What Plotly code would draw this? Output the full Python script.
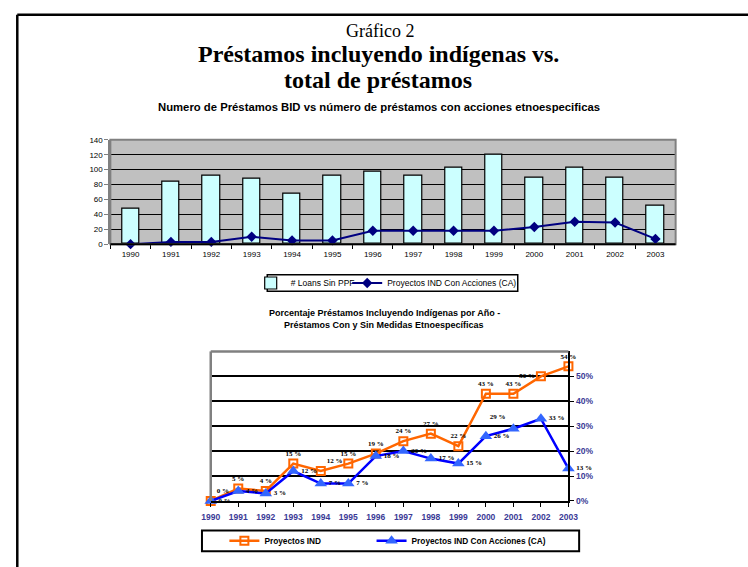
import plotly.graph_objects as go

W, H = 748, 567

# ---------------- data ----------------
years = ["1990", "1991", "1992", "1993", "1994", "1995", "1996", "1997",
         "1998", "1999", "2000", "2001", "2002", "2003"]
years_num = [1990, 1991, 1992, 1993, 1994, 1995, 1996, 1997, 1998, 1999,
             2000, 2001, 2002, 2003]
loans_sin_ppf = [47, 84, 92, 87, 68, 92, 97, 92, 102, 120, 89, 102, 89, 52]
proy_ind_ca_count = [0, 3, 3, 10, 5, 5, 18, 18, 18, 18, 23, 30, 29, 7]

pct_ind = [0, 5, 4, 15, 12, 15, 19, 24, 27, 22, 43, 43, 50, 54]
pct_ca = [0, 4, 3, 12, 7, 7, 18, 20, 17, 15, 26, 29, 33, 13]

top_yticks = [0, 20, 40, 60, 80, 100, 120, 140]
bot_yticks = [0, 10, 20, 30, 40, 50]
bot_yticklabels = ["0%", "10%", "20%", "30%", "40%", "50%"]


def px_x(v):
    return v / W


def px_y(v):
    return 1 - v / H


SANS = "Liberation Sans, Arial, sans-serif"
SERIF = "Liberation Serif, Times New Roman, serif"
TICKBLUE = "#3A3A96"

fig = go.Figure()

# ---------------- top chart ----------------
fig.add_trace(go.Bar(
    x=years, y=loans_sin_ppf, name="# Loans Sin PPF",
    marker=dict(color="#CCFFFF", line=dict(color="black", width=1.2)),
    width=0.43, xaxis="x", yaxis="y", legend="legend",
))
fig.add_trace(go.Scatter(
    x=years, y=proy_ind_ca_count, name="Proyectos IND Con Acciones (CA)",
    mode="lines+markers", line=dict(color="#000080", width=2),
    marker=dict(symbol="diamond", size=8, color="#000080"),
    xaxis="x", yaxis="y", legend="legend2", cliponaxis=False,
))

# ---------------- bottom chart ----------------
ind_text = [f"{v} %" for v in pct_ind]
ca_text = [f"{v} %" for v in pct_ca]
ind_pos = ["top right", "top center", "top center", "top center", "top right",
           "top center", "top center", "top center", "top center", "top center",
           "top center", "top center", "middle left", "top center"]
ca_pos = ["middle right"] * 11 + ["top left", "middle right", "middle right"]

fig.add_trace(go.Scatter(
    x=years_num, y=pct_ind, name="Proyectos IND",
    mode="lines+markers+text", text=ind_text, textposition=ind_pos,
    textfont=dict(family=SERIF, size=7, color="black", weight="bold"),
    line=dict(color="#FF6600", width=2.5),
    marker=dict(symbol="square-open", size=8, color="#FF6600",
                line=dict(width=2, color="#FF6600")),
    xaxis="x2", yaxis="y2", legend="legend3", cliponaxis=False,
))
fig.add_trace(go.Scatter(
    x=years_num, y=pct_ca, name="Proyectos IND Con Acciones (CA)",
    mode="lines+markers+text", text=ca_text, textposition=ca_pos,
    textfont=dict(family=SERIF, size=7, color="black", weight="bold"),
    line=dict(color="#0000FF", width=2.5),
    marker=dict(symbol="triangle-up", size=11, color="#3366FF"),
    xaxis="x2", yaxis="y2", legend="legend4", cliponaxis=False,
))

top_x = [px_x(104), px_x(684)]
top_y = [px_y(244), px_y(138)]
bot_x = [px_x(207), px_x(574)]
bot_y = [px_y(505), px_y(353)]

shapes = [
    # page frame
    dict(type="line", xref="paper", yref="paper", x0=px_x(8.5), x1=1.02,
         y0=px_y(11), y1=px_y(11), line=dict(color="black", width=2.5)),
    dict(type="line", xref="paper", yref="paper", x0=px_x(8.5), x1=px_x(8.5),
         y0=px_y(11), y1=-0.02, line=dict(color="black", width=2.5)),
    # top plot gray background + border
    dict(type="rect", xref="x domain", yref="y domain", x0=0, x1=1, y0=0, y1=1,
         fillcolor="#C0C0C0", line=dict(width=0), layer="below"),
    dict(type="rect", xref="x domain", yref="y domain", x0=0, x1=1, y0=0, y1=1,
         line=dict(color="#808080", width=2), layer="above"),
    dict(type="line", xref="x domain", yref="y domain", x0=0, x1=1, y0=0, y1=0,
         line=dict(color="black", width=2), layer="above"),
    # bottom plot border
    dict(type="line", xref="x2 domain", yref="y2 domain", x0=0, x1=1, y0=1, y1=1,
         line=dict(color="#808080", width=2.5), layer="above"),
    dict(type="line", xref="x2 domain", yref="y2 domain", x0=0, x1=0, y0=0, y1=1,
         line=dict(color="#808080", width=2.5), layer="above"),
    # legend frames
    dict(type="rect", xref="paper", yref="paper",
         x0=px_x(265), x1=px_x(522), y0=px_y(292), y1=px_y(275),
         line=dict(color="black", width=1.5)),
    dict(type="rect", xref="paper", yref="paper",
         x0=px_x(198), x1=px_x(585), y0=px_y(556), y1=px_y(535),
         line=dict(color="black", width=2)),
]


def ann(text, x, y, family, size):
    return dict(text=text, x=px_x(x), y=px_y(y), xref="paper", yref="paper",
                xanchor="center", yanchor="middle", showarrow=False,
                font=dict(family=family, size=size, color="black"))


annotations = [
    ann("Gráfico 2", 381, 27, SERIF, 18),
    ann("<b>Préstamos incluyendo indígenas vs.</b>", 379, 51, SERIF, 24),
    ann("<b>total de préstamos</b>", 379, 77, SERIF, 24),
    ann("<b>Numero de Préstamos BID vs número de préstamos con acciones etnoespecificas</b>",
        380, 105, SANS, 11.3),
    ann("<b>Porcentaje Préstamos Incluyendo Indígenas por Año -</b>", 385, 314, SANS, 9),
    ann("<b>Préstamos Con y Sin Medidas Etnoespecíficas</b>", 385, 326, SANS, 9),
]


def leg(x, y, size, bold=False):
    f = dict(family=SANS, size=size, color="black")
    if bold:
        f["weight"] = "bold"
    return dict(orientation="h", x=px_x(x), y=px_y(y), xanchor="left",
                yanchor="middle", borderwidth=0, bgcolor="rgba(0,0,0,0)",
                itemwidth=30, font=f)


fig.update_layout(
    width=W, height=H,
    margin=dict(l=0, r=0, t=0, b=0),
    paper_bgcolor="white", plot_bgcolor="rgba(0,0,0,0)",
    showlegend=True,
    hovermode=False,
    bargap=0,
    xaxis=dict(domain=top_x, anchor="y", type="category", range=[-0.5, 13.5],
               showline=False, ticks="outside", tickson="boundaries",
               ticklen=4, tickcolor="black", showgrid=False,
               ticklabelstandoff=4,
               tickfont=dict(family=SANS, size=8, color="black")),
    yaxis=dict(domain=top_y, anchor="x", range=[0, 140], tickvals=top_yticks,
               showgrid=True, gridcolor="black", gridwidth=1,
               showline=True, linecolor="#808080", linewidth=2,
               ticks="outside", ticklen=4, tickcolor="#808080", zeroline=False,
               tickfont=dict(family=SANS, size=8, color="black")),
    xaxis2=dict(domain=bot_x, anchor="y2", range=[1990, 2003],
                tickvals=years_num, ticktext=years,
                showline=True, linecolor="black", linewidth=2,
                ticks="outside", ticklen=4, tickcolor="black", showgrid=False,
                zeroline=False, ticklabelstandoff=3,
                tickfont=dict(family=SANS, size=8.5, color=TICKBLUE, weight="bold")),
    yaxis2=dict(domain=bot_y, anchor="x2", side="right", range=[0, 60],
                tickvals=bot_yticks, ticktext=bot_yticklabels,
                showgrid=True, gridcolor="black", gridwidth=1.5,
                showline=True, linecolor="black", linewidth=2,
                ticks="outside", ticklen=4, tickcolor="black", zeroline=False,
                tickfont=dict(family=SANS, size=8.5, color=TICKBLUE, weight="bold")),
    legend=leg(248, 283.5, 8.5),
    legend2=leg(347, 283.5, 8.5),
    legend3=leg(221, 545.5, 8.3, bold=True),
    legend4=leg(372, 545.5, 8.3, bold=True),
    shapes=shapes,
    annotations=annotations,
)

# remove the default 8px page margin so the figure fills the window exactly
fig.write_html(
    "out.html",
    config={"displayModeBar": False},
    post_script="document.body.style.margin='0';"
                "document.documentElement.style.overflow='hidden';",
)
